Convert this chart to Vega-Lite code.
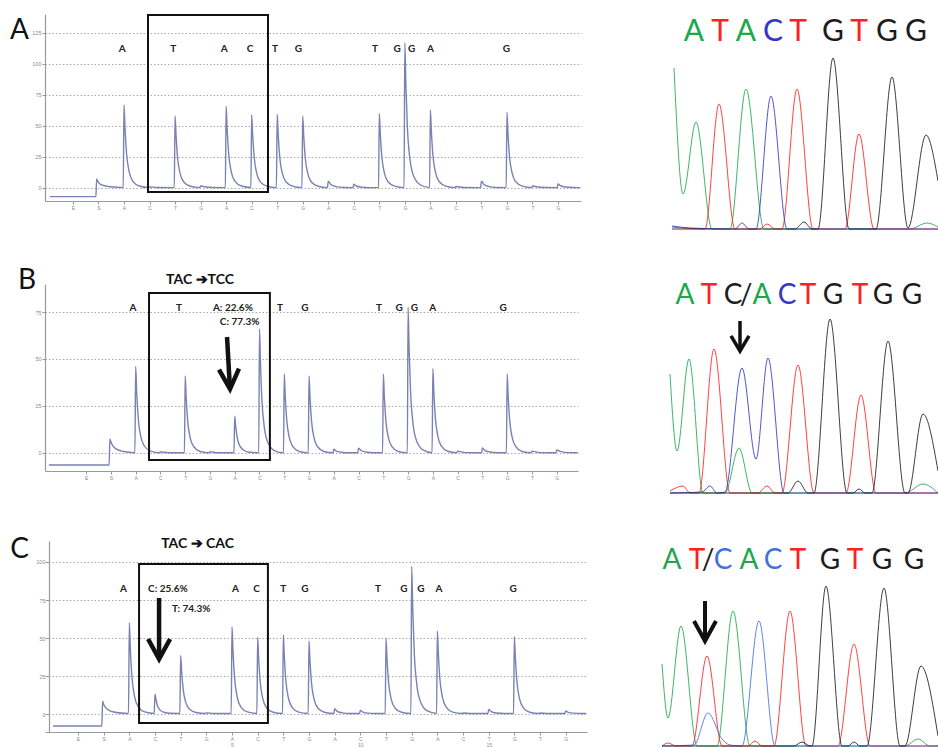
{
"$schema": "https://vega.github.io/schema/vega-lite/v6.json",
"background": "white",
"padding": {"left": 10, "top": 13, "right": 0, "bottom": 0},
"config": {
 "view": {"stroke": null},
 "font": "Lato",
 "axis": {"domainColor": "#9a9a9a", "tickColor": "#9a9a9a", "labelColor": "#8a8a8a", "labelFontSize": 5.5, "labelFont": "Liberation Sans", "tickSize": 3, "labelPadding": 1, "gridColor": "#a0a0a0", "gridDash": [1.5, 2], "gridWidth": 0.9, "domainWidth": 1.2, "labelOverlap": false, "title": null}
},
"datasets": {
 "pyroA": [
{"x":0.1,"y":-7},{"x":1.9,"y":-7},{"x":1.93,"y":7.3},{"x":1.97,"y":5.5},{"x":2.05,"y":3.5},{"x":2.2,"y":2},{"x":2.45,"y":1},{"x":2.8,"y":0.5},
{"x":2.97,"y":0.4},{"x":3,"y":67},{"x":3.04,"y":48},{"x":3.1,"y":28},{"x":3.2,"y":13.4},{"x":3.35,"y":5.4},{"x":3.6,"y":1.6},
{"x":3.97,"y":0.4},{"x":4,"y":0.9},{"x":4.3,"y":0.4},
{"x":4.97,"y":0.3},{"x":5,"y":58},{"x":5.04,"y":42},{"x":5.1,"y":24},{"x":5.2,"y":11.6},{"x":5.35,"y":4.6},{"x":5.6,"y":1.4},
{"x":5.97,"y":0.3},{"x":6,"y":1.6},{"x":6.2,"y":0.8},{"x":6.5,"y":0.4},
{"x":6.97,"y":0.3},{"x":7,"y":66},{"x":7.04,"y":47.5},{"x":7.1,"y":27.7},{"x":7.2,"y":13.2},{"x":7.35,"y":5.3},{"x":7.6,"y":1.6},
{"x":7.97,"y":0.4},{"x":8,"y":59},{"x":8.04,"y":42.5},{"x":8.1,"y":24.8},{"x":8.2,"y":11.8},{"x":8.35,"y":4.7},{"x":8.6,"y":1.5},
{"x":8.97,"y":0.3},{"x":9,"y":59.5},{"x":9.04,"y":43},{"x":9.1,"y":25},{"x":9.2,"y":12},{"x":9.35,"y":4.8},{"x":9.6,"y":1.5},
{"x":9.97,"y":0.3},{"x":10,"y":58},{"x":10.04,"y":41.8},{"x":10.1,"y":24.4},{"x":10.2,"y":11.6},{"x":10.35,"y":4.6},{"x":10.6,"y":1.4},
{"x":10.97,"y":0.3},{"x":11,"y":5.5},{"x":11.1,"y":2.8},{"x":11.3,"y":1.1},{"x":11.6,"y":0.4},
{"x":11.97,"y":0.3},{"x":12,"y":3},{"x":12.1,"y":1.6},{"x":12.3,"y":0.7},{"x":12.6,"y":0.3},
{"x":12.97,"y":0.3},{"x":13,"y":60},{"x":13.04,"y":43.2},{"x":13.1,"y":25.2},{"x":13.2,"y":12},{"x":13.35,"y":4.8},{"x":13.6,"y":1.5},
{"x":13.97,"y":0.3},{"x":14,"y":117},{"x":14.04,"y":84},{"x":14.1,"y":49},{"x":14.2,"y":23.4},{"x":14.35,"y":9.4},{"x":14.6,"y":2.6},
{"x":14.97,"y":0.3},{"x":15,"y":63},{"x":15.04,"y":45.4},{"x":15.1,"y":26.5},{"x":15.2,"y":12.6},{"x":15.35,"y":5},{"x":15.6,"y":1.5},
{"x":15.97,"y":0.3},{"x":16,"y":1.2},{"x":16.3,"y":0.4},
{"x":16.97,"y":0.3},{"x":17,"y":5.5},{"x":17.1,"y":2.8},{"x":17.3,"y":1.1},{"x":17.6,"y":0.4},
{"x":17.97,"y":0.3},{"x":18,"y":61},{"x":18.04,"y":44},{"x":18.1,"y":25.6},{"x":18.2,"y":12.2},{"x":18.35,"y":4.9},{"x":18.6,"y":1.5},
{"x":18.97,"y":0.3},{"x":19,"y":1.6},{"x":19.2,"y":0.8},{"x":19.5,"y":0.4},
{"x":19.97,"y":0.3},{"x":20,"y":3.2},{"x":20.1,"y":1.8},{"x":20.3,"y":0.8},{"x":20.6,"y":0.4},{"x":20.88,"y":0.3}
 ],
 "pyroB": [
{"x":-0.5,"y":-6.4},{"x":1.93,"y":-6.4},{"x":1.96,"y":7.5},{"x":2,"y":5.8},{"x":2.08,"y":3.8},{"x":2.23,"y":2},{"x":2.45,"y":1},{"x":2.8,"y":0.3},
{"x":2.97,"y":0.1},{"x":3,"y":46},{"x":3.04,"y":33},{"x":3.1,"y":19.3},{"x":3.2,"y":9.2},{"x":3.35,"y":3.7},{"x":3.6,"y":1},
{"x":3.97,"y":0.1},{"x":4,"y":0.6},{"x":4.3,"y":0.1},
{"x":4.97,"y":0.1},{"x":5,"y":41},{"x":5.04,"y":29.5},{"x":5.1,"y":17.2},{"x":5.2,"y":8.2},{"x":5.35,"y":3.3},{"x":5.6,"y":0.8},
{"x":5.97,"y":0.1},{"x":6,"y":0.7},{"x":6.3,"y":0.1},
{"x":6.97,"y":0.1},{"x":7,"y":19.5},{"x":7.04,"y":14},{"x":7.1,"y":8.2},{"x":7.2,"y":3.9},{"x":7.35,"y":1.6},{"x":7.6,"y":0.4},
{"x":7.97,"y":0.1},{"x":8,"y":66},{"x":8.04,"y":47.5},{"x":8.1,"y":27.7},{"x":8.2,"y":13.2},{"x":8.35,"y":5.3},{"x":8.6,"y":1.3},
{"x":8.97,"y":0.1},{"x":9,"y":42},{"x":9.04,"y":30.2},{"x":9.1,"y":17.6},{"x":9.2,"y":8.4},{"x":9.35,"y":3.4},{"x":9.6,"y":0.8},
{"x":9.97,"y":0.1},{"x":10,"y":41},{"x":10.04,"y":29.5},{"x":10.1,"y":17.2},{"x":10.2,"y":8.2},{"x":10.35,"y":3.3},{"x":10.6,"y":0.8},
{"x":10.97,"y":0.1},{"x":11,"y":2},{"x":11.1,"y":1},{"x":11.3,"y":0.4},{"x":11.6,"y":0.1},
{"x":11.97,"y":0.1},{"x":12,"y":2.5},{"x":12.1,"y":1.3},{"x":12.3,"y":0.5},{"x":12.6,"y":0.1},
{"x":12.97,"y":0.1},{"x":13,"y":42},{"x":13.04,"y":30.2},{"x":13.1,"y":17.6},{"x":13.2,"y":8.4},{"x":13.35,"y":3.4},{"x":13.6,"y":0.8},
{"x":13.97,"y":0.1},{"x":14,"y":77.5},{"x":14.04,"y":55.8},{"x":14.1,"y":32.6},{"x":14.2,"y":15.5},{"x":14.35,"y":6.2},{"x":14.6,"y":1.6},
{"x":14.97,"y":0.1},{"x":15,"y":45},{"x":15.04,"y":32.4},{"x":15.1,"y":18.9},{"x":15.2,"y":9},{"x":15.35,"y":3.6},{"x":15.6,"y":0.9},
{"x":15.97,"y":0.1},{"x":16,"y":1},{"x":16.3,"y":0.2},
{"x":16.97,"y":0.1},{"x":17,"y":2.7},{"x":17.1,"y":1.4},{"x":17.3,"y":0.5},{"x":17.6,"y":0.1},
{"x":17.97,"y":0.1},{"x":18,"y":42},{"x":18.04,"y":30.2},{"x":18.1,"y":17.6},{"x":18.2,"y":8.4},{"x":18.35,"y":3.4},{"x":18.6,"y":0.8},
{"x":18.97,"y":0.1},{"x":19,"y":1},{"x":19.3,"y":0.2},
{"x":19.97,"y":0.1},{"x":20,"y":1.6},{"x":20.15,"y":0.8},{"x":20.4,"y":0.2},{"x":20.85,"y":0.1}
 ],
 "pyroC": [
{"x":0.03,"y":-7.9},{"x":1.93,"y":-7.9},{"x":1.96,"y":8.5},{"x":2,"y":6.5},{"x":2.08,"y":4.2},{"x":2.23,"y":2.3},{"x":2.45,"y":1.2},{"x":2.8,"y":0.5},
{"x":2.97,"y":0.4},{"x":3,"y":60},{"x":3.04,"y":43.2},{"x":3.1,"y":25.2},{"x":3.2,"y":12},{"x":3.35,"y":4.8},{"x":3.6,"y":1.4},
{"x":3.97,"y":0.4},{"x":4,"y":13},{"x":4.04,"y":9.4},{"x":4.1,"y":5.5},{"x":4.2,"y":2.6},{"x":4.35,"y":1.2},{"x":4.6,"y":0.5},
{"x":4.97,"y":0.4},{"x":5,"y":38.5},{"x":5.04,"y":27.7},{"x":5.1,"y":16.2},{"x":5.2,"y":7.7},{"x":5.35,"y":3.1},{"x":5.6,"y":1},
{"x":5.97,"y":0.4},{"x":6,"y":0.8},{"x":6.3,"y":0.4},
{"x":6.97,"y":0.4},{"x":7,"y":57.5},{"x":7.04,"y":41.4},{"x":7.1,"y":24.2},{"x":7.2,"y":11.5},{"x":7.35,"y":4.6},{"x":7.6,"y":1.4},
{"x":7.97,"y":0.4},{"x":8,"y":50.5},{"x":8.04,"y":36.4},{"x":8.1,"y":21.2},{"x":8.2,"y":10.1},{"x":8.35,"y":4},{"x":8.6,"y":1.2},
{"x":8.97,"y":0.4},{"x":9,"y":52},{"x":9.04,"y":37.4},{"x":9.1,"y":21.8},{"x":9.2,"y":10.4},{"x":9.35,"y":4.2},{"x":9.6,"y":1.3},
{"x":9.97,"y":0.4},{"x":10,"y":48},{"x":10.04,"y":34.6},{"x":10.1,"y":20.2},{"x":10.2,"y":9.6},{"x":10.35,"y":3.8},{"x":10.6,"y":1.2},
{"x":10.97,"y":0.4},{"x":11,"y":3.5},{"x":11.1,"y":1.8},{"x":11.3,"y":0.8},{"x":11.6,"y":0.4},
{"x":11.97,"y":0.4},{"x":12,"y":2.4},{"x":12.1,"y":1.3},{"x":12.3,"y":0.6},{"x":12.6,"y":0.4},
{"x":12.97,"y":0.4},{"x":13,"y":50},{"x":13.04,"y":36},{"x":13.1,"y":21},{"x":13.2,"y":10},{"x":13.35,"y":4},{"x":13.6,"y":1.2},
{"x":13.97,"y":0.4},{"x":14,"y":97},{"x":14.04,"y":69.8},{"x":14.1,"y":40.7},{"x":14.2,"y":19.4},{"x":14.35,"y":7.8},{"x":14.6,"y":2.2},
{"x":14.97,"y":0.4},{"x":15,"y":54.6},{"x":15.04,"y":39.3},{"x":15.1,"y":22.9},{"x":15.2,"y":10.9},{"x":15.35,"y":4.4},{"x":15.6,"y":1.3},
{"x":15.97,"y":0.4},{"x":16,"y":0.7},{"x":16.3,"y":0.4},
{"x":16.97,"y":0.4},{"x":17,"y":3},{"x":17.1,"y":1.6},{"x":17.3,"y":0.7},{"x":17.6,"y":0.4},
{"x":17.97,"y":0.4},{"x":18,"y":51},{"x":18.04,"y":36.7},{"x":18.1,"y":21.4},{"x":18.2,"y":10.2},{"x":18.35,"y":4.1},{"x":18.6,"y":1.2},
{"x":18.97,"y":0.4},{"x":19,"y":0.7},{"x":19.3,"y":0.4},
{"x":19.97,"y":0.4},{"x":20,"y":2},{"x":20.1,"y":1.1},{"x":20.3,"y":0.6},{"x":20.6,"y":0.4},{"x":20.8,"y":0.4}
 ],
 "lblA": [{"x":2.93,"y":112,"t":"A"},{"x":4.93,"y":112,"t":"T"},{"x":6.93,"y":112,"t":"A"},{"x":7.94,"y":112,"t":"C"},{"x":8.91,"y":112,"t":"T"},{"x":9.83,"y":112,"t":"G"},{"x":12.83,"y":112,"t":"T"},{"x":13.7,"y":112,"t":"G"},{"x":14.27,"y":112,"t":"G"},{"x":15.0,"y":112,"t":"A"},{"x":17.98,"y":112,"t":"G"}],
 "lblB": [{"x":2.89,"y":77,"t":"A"},{"x":4.75,"y":77,"t":"T"},{"x":8.83,"y":77,"t":"T"},{"x":9.83,"y":77,"t":"G"},{"x":12.83,"y":77,"t":"T"},{"x":13.64,"y":77,"t":"G"},{"x":14.25,"y":77,"t":"G"},{"x":14.99,"y":77,"t":"A"},{"x":17.84,"y":77,"t":"G"}],
 "pctB": [{"x":6.12,"y":77,"t":"A: 22.6%"},{"x":6.4,"y":69.7,"t":"C: 77.3%"}],
 "lblC": [{"x":2.77,"y":82.2,"t":"A"},{"x":7.14,"y":82.2,"t":"A"},{"x":7.96,"y":82.2,"t":"C"},{"x":9.0,"y":82.2,"t":"T"},{"x":9.84,"y":82.2,"t":"G"},{"x":12.69,"y":82.2,"t":"T"},{"x":13.7,"y":82.2,"t":"G"},{"x":14.36,"y":82.2,"t":"G"},{"x":15.06,"y":82.2,"t":"A"},{"x":17.95,"y":82.2,"t":"G"}],
 "pctC": [{"x":3.73,"y":82.2,"t":"C: 25.6%"},{"x":4.66,"y":69.1,"t":"T: 74.3%"}],
 "chromA": [
{"x":2,"y":161,"b":"A"},{"x":11,"y":35,"b":"A"},{"x":24,"y":107,"b":"A"},{"x":40,"y":0,"b":"A"},{"x":58,"y":0,"b":"A"},{"x":74,"y":140,"b":"A"},{"x":92,"y":0,"b":"A"},{"x":238,"y":0,"b":"A"},{"x":255,"y":6,"b":"A"},{"x":266,"y":2,"b":"A"},
{"x":0,"y":2,"b":"T"},{"x":33,"y":0,"b":"T"},{"x":47,"y":125,"b":"T"},{"x":63,"y":0,"b":"T"},{"x":88,"y":0,"b":"T"},{"x":95,"y":5,"b":"T"},{"x":103,"y":0,"b":"T"},{"x":110,"y":0,"b":"T"},{"x":125,"y":140,"b":"T"},{"x":141,"y":0,"b":"T"},{"x":173,"y":0,"b":"T"},{"x":187,"y":95,"b":"T"},{"x":202,"y":0,"b":"T"},{"x":266,"y":0,"b":"T"},
{"x":0,"y":3,"b":"C"},{"x":18,"y":1,"b":"C"},{"x":63,"y":0,"b":"C"},{"x":70,"y":6,"b":"C"},{"x":77,"y":0,"b":"C"},{"x":84,"y":0,"b":"C"},{"x":99,"y":133,"b":"C"},{"x":115,"y":0,"b":"C"},{"x":266,"y":0,"b":"C"},
{"x":0,"y":0,"b":"G"},{"x":123,"y":0,"b":"G"},{"x":132,"y":7,"b":"G"},{"x":140,"y":0,"b":"G"},{"x":146,"y":0,"b":"G"},{"x":161,"y":171,"b":"G"},{"x":177,"y":0,"b":"G"},{"x":204,"y":0,"b":"G"},{"x":220,"y":152,"b":"G"},{"x":236,"y":1,"b":"G"},{"x":254,"y":94,"b":"G"},{"x":266,"y":48,"b":"G"}
 ],
 "chromB": [
{"x":0,"y":119,"b":"A"},{"x":7,"y":42,"b":"A"},{"x":19,"y":134,"b":"A"},{"x":33,"y":0,"b":"A"},{"x":55,"y":0,"b":"A"},{"x":69,"y":45,"b":"A"},{"x":82,"y":0,"b":"A"},{"x":235,"y":0,"b":"A"},{"x":253,"y":9,"b":"A"},{"x":268,"y":0,"b":"A"},
{"x":0,"y":2,"b":"T"},{"x":13,"y":7,"b":"T"},{"x":20,"y":0,"b":"T"},{"x":29,"y":0,"b":"T"},{"x":44,"y":144,"b":"T"},{"x":60,"y":0,"b":"T"},{"x":88,"y":0,"b":"T"},{"x":97,"y":7,"b":"T"},{"x":105,"y":0,"b":"T"},{"x":112,"y":0,"b":"T"},{"x":128,"y":128,"b":"T"},{"x":144,"y":0,"b":"T"},{"x":176,"y":0,"b":"T"},{"x":191,"y":98,"b":"T"},{"x":206,"y":0,"b":"T"},{"x":268,"y":0,"b":"T"},
{"x":0,"y":0,"b":"C"},{"x":32,"y":1,"b":"C"},{"x":40,"y":7,"b":"C"},{"x":47,"y":0,"b":"C"},{"x":55,"y":1,"b":"C"},{"x":72,"y":125,"b":"C"},{"x":86,"y":34,"b":"C"},{"x":98,"y":135,"b":"C"},{"x":114,"y":0,"b":"C"},{"x":268,"y":0,"b":"C"},
{"x":0,"y":0,"b":"G"},{"x":118,"y":0,"b":"G"},{"x":128,"y":12,"b":"G"},{"x":138,"y":0,"b":"G"},{"x":144,"y":0,"b":"G"},{"x":160,"y":174,"b":"G"},{"x":177,"y":0,"b":"G"},{"x":183,"y":0,"b":"G"},{"x":189,"y":4,"b":"G"},{"x":195,"y":0,"b":"G"},{"x":202,"y":0,"b":"G"},{"x":218,"y":152,"b":"G"},{"x":235,"y":0,"b":"G"},{"x":238,"y":0,"b":"G"},{"x":253,"y":79,"b":"G"},{"x":268,"y":22,"b":"G"}
 ],
 "chromC": [
{"x":0,"y":82,"b":"A"},{"x":6,"y":28,"b":"A"},{"x":19,"y":120,"b":"A"},{"x":35,"y":0,"b":"A"},{"x":55,"y":0,"b":"A"},{"x":71,"y":135,"b":"A"},{"x":88,"y":0,"b":"A"},{"x":243,"y":0,"b":"A"},{"x":256,"y":7,"b":"A"},{"x":268,"y":0,"b":"A"},{"x":276,"y":0,"b":"A"},
{"x":0,"y":0,"b":"T"},{"x":6,"y":3,"b":"T"},{"x":14,"y":0,"b":"T"},{"x":30,"y":0,"b":"T"},{"x":45,"y":90,"b":"T"},{"x":60,"y":0,"b":"T"},{"x":86,"y":0,"b":"T"},{"x":93,"y":5,"b":"T"},{"x":100,"y":0,"b":"T"},{"x":112,"y":0,"b":"T"},{"x":128,"y":135,"b":"T"},{"x":144,"y":0,"b":"T"},{"x":176,"y":0,"b":"T"},{"x":192,"y":102,"b":"T"},{"x":208,"y":0,"b":"T"},{"x":276,"y":0,"b":"T"},
{"x":0,"y":0,"b":"C"},{"x":32,"y":1,"b":"C"},{"x":46,"y":33,"b":"C"},{"x":60,"y":7,"b":"C"},{"x":68,"y":1,"b":"C"},{"x":80,"y":0,"b":"C"},{"x":97,"y":125,"b":"C"},{"x":113,"y":0,"b":"C"},{"x":276,"y":0,"b":"C"},
{"x":0,"y":0,"b":"G"},{"x":132,"y":0,"b":"G"},{"x":140,"y":4,"b":"G"},{"x":148,"y":0,"b":"G"},{"x":150,"y":0,"b":"G"},{"x":164,"y":160,"b":"G"},{"x":180,"y":0,"b":"G"},{"x":186,"y":0,"b":"G"},{"x":192,"y":4,"b":"G"},{"x":198,"y":0,"b":"G"},{"x":205,"y":0,"b":"G"},{"x":222,"y":158,"b":"G"},{"x":238,"y":0,"b":"G"},{"x":243,"y":0,"b":"G"},{"x":259,"y":80,"b":"G"},{"x":276,"y":10,"b":"G"}
 ],
 "seqA": [{"x":22,"y":188,"t":"A","b":"A"},{"x":48,"y":188,"t":"T","b":"T"},{"x":74,"y":188,"t":"A","b":"A"},{"x":101,"y":188,"t":"C","b":"C"},{"x":126,"y":188,"t":"T","b":"T"},{"x":161,"y":188,"t":"G","b":"G"},{"x":187,"y":188,"t":"T","b":"T"},{"x":215,"y":188,"t":"G","b":"G"},{"x":244,"y":188,"t":"G","b":"G"}],
 "seqB": [{"x":15,"y":189,"t":"A","b":"A"},{"x":39,"y":189,"t":"T","b":"T"},{"x":63,"y":189,"t":"C","b":"N"},{"x":76,"y":189,"t":"/","b":"N"},{"x":92,"y":189,"t":"A","b":"A"},{"x":117,"y":189,"t":"C","b":"C"},{"x":138,"y":189,"t":"T","b":"T"},{"x":163,"y":189,"t":"G","b":"G"},{"x":190,"y":189,"t":"T","b":"T"},{"x":213,"y":189,"t":"G","b":"G"},{"x":242,"y":189,"t":"G","b":"G"}],
 "seqC": [{"x":10,"y":177,"t":"A","b":"A"},{"x":35,"y":177,"t":"T","b":"T"},{"x":46,"y":177,"t":"/","b":"N"},{"x":61,"y":177,"t":"C","b":"C"},{"x":87,"y":177,"t":"A","b":"A"},{"x":111,"y":177,"t":"C","b":"C"},{"x":136,"y":177,"t":"T","b":"T"},{"x":168,"y":177,"t":"G","b":"G"},{"x":193,"y":177,"t":"T","b":"T"},{"x":220,"y":177,"t":"G","b":"G"},{"x":252,"y":177,"t":"G","b":"G"}]
},
"columns": 2,
"spacing": {"row": 45, "column": 75},
"bounds": "flush",
"align": "each",
"resolve": {"scale": {"color": "independent", "x": "independent", "y": "independent"}},
"concat": [
   {
    "width": 536, "height": 187,
    "encoding": {
     "x": {"field": "x", "type": "quantitative", "scale": {"domain": [-0.094, 20.9], "nice": false, "zero": false},
       "axis": {"values": [1,2,3,4,5,6,7,8,9,10,11,12,13,14,15,16,17,18,19,20], "labelExpr": "substring('ESACTGACTGACTGACTGTG', datum.value-1, datum.value)", "grid": false, "labelFontSize": 5}},
     "y": {"field": "y", "type": "quantitative", "scale": {"domain": [-10.5, 140.3], "nice": false, "zero": false},
       "axis": {"values": [0,25,50,75,100,125], "grid": true}}
    },
    "layer": [
     {"data": {"name": "pyroA"}, "mark": {"type": "line", "interpolate": "monotone", "color": "#7b82b3", "strokeWidth": 1.4}},
     {"data": {"values": [{"x": 3.94, "y": 139.5, "x2": 8.64, "y2": -3.2}]}, "mark": {"type": "rect", "fill": "transparent", "stroke": "#111111", "strokeWidth": 2}, "encoding": {"x2": {"field": "x2"}, "y2": {"field": "y2"}}},
     {"data": {"name": "lblA"}, "mark": {"type": "text", "fontWeight": "bold", "fontSize": 10, "baseline": "middle", "color": "#222222"}, "encoding": {"text": {"field": "t"}}},
     {"data": {"values": [{"x": -1.46, "y": 120.2, "t": "A"}]}, "mark": {"type": "text", "fontSize": 28, "align": "left", "baseline": "alphabetic", "color": "#111111"}, "encoding": {"text": {"field": "t"}}}
    ]
   },
   {
    "width": 276, "height": 225,
    "encoding": {
     "x": {"field": "x", "type": "quantitative", "scale": {"domain": [-10, 266], "nice": false, "zero": false}, "axis": null},
     "y": {"field": "y", "type": "quantitative", "scale": {"domain": [-10, 215], "nice": false, "zero": false}, "axis": null}
    },
    "layer": [
     {"data": {"name": "chromA"}, "mark": {"type": "line", "interpolate": "monotone", "strokeWidth": 1, "opacity": 0.85},
      "encoding": {"color": {"field": "b", "type": "nominal", "scale": {"domain": ["A","C","G","T","N"], "range": ["#1ba84c","#3535c9","#1c1c1c","#ff2020","#1c1c1c"]}, "legend": null}}},
     {"data": {"name": "seqA"}, "mark": {"type": "text", "fontSize": 30, "baseline": "alphabetic"},
      "encoding": {"text": {"field": "t"}, "color": {"field": "b", "type": "nominal", "scale": {"domain": ["A","C","G","T","N"], "range": ["#1ba84c","#3535c9","#1c1c1c","#ff2020","#1c1c1c"]}, "legend": null}}}
    ]
   },
   {
    "width": 533, "height": 187,
    "encoding": {
     "x": {"field": "x", "type": "quantitative", "scale": {"domain": [-0.66, 20.86], "nice": false, "zero": false},
       "axis": {"values": [1,2,3,4,5,6,7,8,9,10,11,12,13,14,15,16,17,18,19,20], "labelExpr": "substring('ESACTGACTGACTGACTGTG', datum.value-1, datum.value)", "grid": false, "labelFontSize": 5}},
     "y": {"field": "y", "type": "quantitative", "scale": {"domain": [-9.6, 89.9], "nice": false, "zero": false},
       "axis": {"values": [0,25,50,75], "grid": true}}
    },
    "layer": [
     {"data": {"name": "pyroB"}, "mark": {"type": "line", "interpolate": "monotone", "color": "#7b82b3", "strokeWidth": 1.4}},
     {"data": {"values": [{"x": 3.54, "y": 85.1, "x2": 8.42, "y2": -3.7}]}, "mark": {"type": "rect", "fill": "transparent", "stroke": "#111111", "strokeWidth": 2}, "encoding": {"x2": {"field": "x2"}, "y2": {"field": "y2"}}},
     {"data": {"name": "lblB"}, "mark": {"type": "text", "fontWeight": "bold", "fontSize": 10, "baseline": "middle", "color": "#222222"}, "encoding": {"text": {"field": "t"}}},
     {"data": {"name": "pctB"}, "mark": {"type": "text", "fontWeight": "bold", "fontSize": 10, "baseline": "middle", "align": "left", "color": "#222222"}, "encoding": {"text": {"field": "t"}}},
     {"data": {"values": [{"x": 5.6, "y": 92, "t": "TAC ➔TCC"}]}, "mark": {"type": "text", "fontWeight": "bold", "fontSize": 14, "baseline": "middle", "color": "#111111"}, "encoding": {"text": {"field": "t"}}},
     {"data": {"values": [{"x": 6.69, "y": 61.7, "x2": 6.8, "y2": 36}]}, "mark": {"type": "rule", "strokeWidth": 4.5, "color": "#111111"}, "encoding": {"x2": {"field": "x2"}, "y2": {"field": "y2"}}},
     {"data": {"values": [{"x": 6.81, "y": 34}]}, "mark": {"type": "point", "shape": "M-1,-2L0,0L1,-2", "size": 400, "filled": false, "color": "#111111", "strokeWidth": 4.5, "opacity": 1, "angle": -3}},
     {"data": {"values": [{"x": -1.75, "y": 87.2, "t": "B"}]}, "mark": {"type": "text", "fontSize": 28, "align": "left", "baseline": "alphabetic", "color": "#111111"}, "encoding": {"text": {"field": "t"}}}
    ]
   },
   {
    "width": 276, "height": 212,
    "encoding": {
     "x": {"field": "x", "type": "quantitative", "scale": {"domain": [-8, 268], "nice": false, "zero": false}, "axis": null},
     "y": {"field": "y", "type": "quantitative", "scale": {"domain": [-3, 209], "nice": false, "zero": false}, "axis": null}
    },
    "layer": [
     {"data": {"name": "chromB"}, "mark": {"type": "line", "interpolate": "monotone", "strokeWidth": 1, "opacity": 0.85},
      "encoding": {"color": {"field": "b", "type": "nominal", "scale": {"domain": ["A","C","G","T","N"], "range": ["#1ba84c","#3535c9","#1c1c1c","#ff2020","#1c1c1c"]}, "legend": null}}},
     {"data": {"name": "seqB"}, "mark": {"type": "text", "fontSize": 28, "baseline": "alphabetic"},
      "encoding": {"text": {"field": "t"}, "color": {"field": "b", "type": "nominal", "scale": {"domain": ["A","C","G","T","N"], "range": ["#1ba84c","#3535c9","#1c1c1c","#ff2020","#1c1c1c"]}, "legend": null}}},
     {"data": {"values": [{"x": 70, "y": 172, "x2": 70, "y2": 144}]}, "mark": {"type": "rule", "strokeWidth": 3.5, "color": "#111111"}, "encoding": {"x2": {"field": "x2"}, "y2": {"field": "y2"}}},
     {"data": {"values": [{"x": 70, "y": 142}]}, "mark": {"type": "point", "shape": "M-1,-1.67L0,0L1,-1.67", "size": 324, "filled": false, "color": "#111111", "strokeWidth": 3.5, "opacity": 1}}
    ]
   },
   {
    "width": 542, "height": 191,
    "encoding": {
     "x": {"field": "x", "type": "quantitative", "scale": {"domain": [-0.284, 20.83], "nice": false, "zero": false},
       "axis": {"values": [1,2,3,4,5,6,7,8,9,10,11,12,13,14,15,16,17,18,19,20], "labelExpr": "(datum.value - 2) % 5 == 0 && datum.value > 2 ? [substring('ESACTGACTGACTGACTGTG', datum.value-1, datum.value), '' + (datum.value - 2)] : substring('ESACTGACTGACTGACTGTG', datum.value-1, datum.value)", "labelLineHeight": 6.5, "grid": false, "labelFontSize": 5}},
     "y": {"field": "y", "type": "quantitative", "scale": {"domain": [-11.8, 113.8], "nice": false, "zero": false},
       "axis": {"values": [0,25,50,75,100], "grid": true, "offset": -4}}
    },
    "layer": [
     {"data": {"name": "pyroC"}, "mark": {"type": "line", "interpolate": "monotone", "color": "#7b82b3", "strokeWidth": 1.4}},
     {"data": {"values": [{"x": 3.38, "y": 98.7, "x2": 8.4, "y2": -5.9}]}, "mark": {"type": "rect", "fill": "transparent", "stroke": "#111111", "strokeWidth": 2}, "encoding": {"x2": {"field": "x2"}, "y2": {"field": "y2"}}},
     {"data": {"name": "lblC"}, "mark": {"type": "text", "fontWeight": "bold", "fontSize": 10, "baseline": "middle", "color": "#222222"}, "encoding": {"text": {"field": "t"}}},
     {"data": {"name": "pctC"}, "mark": {"type": "text", "fontWeight": "bold", "fontSize": 10, "baseline": "middle", "align": "left", "color": "#222222"}, "encoding": {"text": {"field": "t"}}},
     {"data": {"values": [{"x": 5.66, "y": 111.8, "t": "TAC ➔ CAC"}]}, "mark": {"type": "text", "fontWeight": "bold", "fontSize": 14, "baseline": "middle", "color": "#111111"}, "encoding": {"text": {"field": "t"}}},
     {"data": {"values": [{"x": 4.16, "y": 76.3, "x2": 4.16, "y2": 38}]}, "mark": {"type": "rule", "strokeWidth": 4.5, "color": "#111111"}, "encoding": {"x2": {"field": "x2"}, "y2": {"field": "y2"}}},
     {"data": {"values": [{"x": 4.16, "y": 36.2}]}, "mark": {"type": "point", "shape": "M-1,-1.82L0,0L1,-1.82", "size": 484, "filled": false, "color": "#111111", "strokeWidth": 4.5, "opacity": 1}},
     {"data": {"values": [{"x": -1.64, "y": 102.6, "t": "C"}]}, "mark": {"type": "text", "fontSize": 28, "align": "left", "baseline": "alphabetic", "color": "#111111"}, "encoding": {"text": {"field": "t"}}}
    ]
   },
   {
    "width": 276, "height": 207,
    "encoding": {
     "x": {"field": "x", "type": "quantitative", "scale": {"domain": [0, 276], "nice": false, "zero": false}, "axis": null},
     "y": {"field": "y", "type": "quantitative", "scale": {"domain": [-2, 205], "nice": false, "zero": false}, "axis": null}
    },
    "layer": [
     {"data": {"name": "chromC"}, "mark": {"type": "line", "interpolate": "monotone", "strokeWidth": 1, "opacity": 0.85},
      "encoding": {"color": {"field": "b", "type": "nominal", "scale": {"domain": ["A","C","G","T","N"], "range": ["#1ba84c","#3f72de","#1c1c1c","#ff2020","#1c1c1c"]}, "legend": null}}},
     {"data": {"name": "seqC"}, "mark": {"type": "text", "fontSize": 28, "baseline": "alphabetic"},
      "encoding": {"text": {"field": "t"}, "color": {"field": "b", "type": "nominal", "scale": {"domain": ["A","C","G","T","N"], "range": ["#1ba84c","#3f72de","#1c1c1c","#ff2020","#1c1c1c"]}, "legend": null}}},
     {"data": {"values": [{"x": 43, "y": 145, "x2": 43, "y2": 107}]}, "mark": {"type": "rule", "strokeWidth": 4, "color": "#111111"}, "encoding": {"x2": {"field": "x2"}, "y2": {"field": "y2"}}},
     {"data": {"values": [{"x": 43, "y": 105}]}, "mark": {"type": "point", "shape": "M-1,-1.82L0,0L1,-1.82", "size": 484, "filled": false, "color": "#111111", "strokeWidth": 4, "opacity": 1}}
    ]
   }
]
}
